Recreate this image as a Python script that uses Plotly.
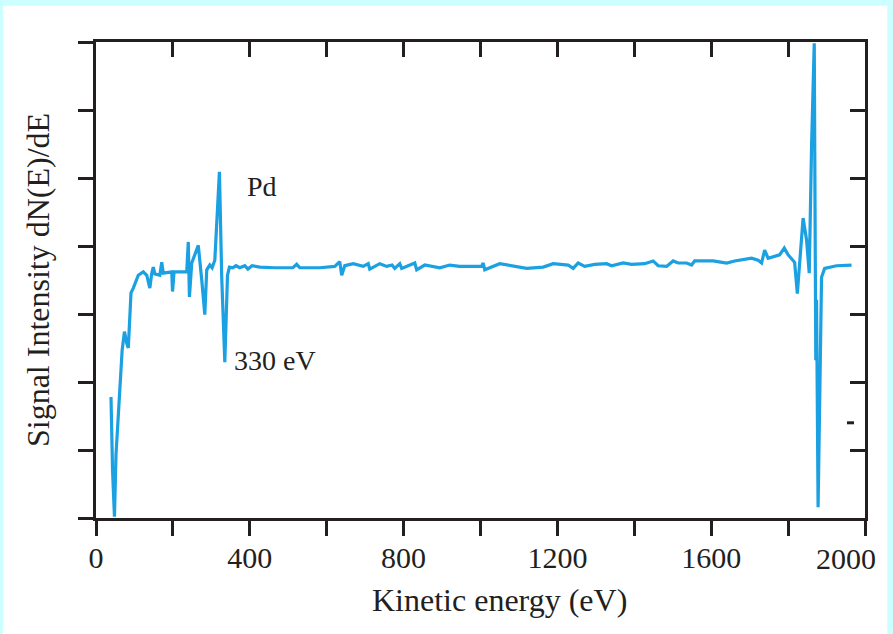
import plotly.graph_objects as go

# Auger electron spectrum (derivative mode) of a Pd surface
energy_ev = [
    39, 43, 48, 52, 68, 74, 80, 84, 91, 97, 110, 123, 132, 140, 145, 149, 153,
    166, 171, 175, 197, 199, 203, 236, 240, 243, 249, 266, 275, 283, 288, 296,
    302, 309, 321, 327, 335, 342, 347, 356, 364, 374, 387, 395, 406, 426, 465,
    512, 522, 530, 582, 621, 634, 639, 647, 669, 695, 708, 712, 738, 756, 770,
    777, 790, 795, 811, 829, 834, 855, 894, 920, 946, 1003, 1007, 1011, 1050,
    1085, 1120, 1163, 1189, 1228, 1241, 1254, 1271, 1297, 1328, 1341, 1371,
    1393, 1427, 1449, 1462, 1484, 1501, 1514, 1536, 1549, 1557, 1605, 1640,
    1661, 1705, 1722, 1731, 1739, 1748, 1778, 1790, 1800, 1817, 1824, 1835,
    1839, 1848, 1855, 1861, 1868, 1872, 1874, 1878, 1887, 1895, 1926, 1965,
]
signal = [
    1.78, 0.71, 0.02, 0.93, 2.47, 2.74, 2.57, 2.50, 3.31, 3.38, 3.57, 3.62,
    3.57, 3.38, 3.60, 3.69, 3.59, 3.57, 3.76, 3.60, 3.62, 3.33, 3.62, 3.62,
    4.06, 3.25, 3.75, 4.01, 3.50, 2.99, 3.65, 3.72, 3.68, 3.79, 5.09, 3.54,
    2.29, 3.57, 3.69, 3.68, 3.71, 3.68, 3.71, 3.66, 3.71, 3.69, 3.68, 3.68,
    3.73, 3.68, 3.68, 3.70, 3.77, 3.57, 3.71, 3.74, 3.70, 3.74, 3.66, 3.74,
    3.70, 3.72, 3.67, 3.74, 3.67, 3.71, 3.75, 3.65, 3.72, 3.68, 3.72, 3.70,
    3.70, 3.75, 3.65, 3.74, 3.71, 3.67, 3.69, 3.74, 3.72, 3.67, 3.75, 3.70,
    3.73, 3.74, 3.71, 3.75, 3.73, 3.74, 3.78, 3.71, 3.70, 3.78, 3.75, 3.75,
    3.72, 3.78, 3.78, 3.75, 3.78, 3.82, 3.79, 3.75, 3.94, 3.82, 3.87, 3.97,
    3.87, 3.76, 3.30, 4.09, 4.41, 4.09, 3.60, 5.46, 6.98, 2.32, 3.21, 0.16,
    3.54, 3.67, 3.71, 3.72,
]

x_ticks = list(range(0, 2001, 200))
# the last label is placed separately, nudged left so it stays on the card
x_labels = ["0", "", "400", "", "800", "", "1200", "", "1600", "", ""]
last_label = "2000"
y_ticks = list(range(0, 8))

LINE_BLUE = "#1ba0e1"
INK = "#231f20"
SERIF = "Liberation Serif, Times New Roman, serif"
TICK_SIZE = 30

fig = go.Figure()
fig.add_trace(go.Scatter(
    x=energy_ev, y=signal, mode="lines",
    line=dict(color=LINE_BLUE, width=3.2),
    hoverinfo="skip", showlegend=False,
))
# empty trace so the mirrored top/right axes get drawn
fig.add_trace(go.Scatter(
    x=[None], y=[None], xaxis="x2", yaxis="y2",
    mode="lines", hoverinfo="skip", showlegend=False,
))

axis_common = dict(showgrid=False, zeroline=False, showline=True,
                   linecolor=INK, linewidth=3, tickcolor=INK,
                   tickwidth=3, ticklen=15, automargin=False)

fig.update_layout(
    width=893, height=634,
    margin=dict(l=96, r=28, t=42, b=116, autoexpand=False),
    paper_bgcolor="#ccffff",
    plot_bgcolor="white",
    font=dict(family=SERIF, color=INK),
    xaxis=dict(range=[0, 2000], tickvals=x_ticks, ticktext=x_labels,
               ticks="outside", tickfont=dict(size=TICK_SIZE),
               ticklabelstandoff=-4,
               **axis_common),
    yaxis=dict(range=[0, 7], tickvals=y_ticks, showticklabels=False,
               ticks="outside", **axis_common),
    xaxis2=dict(range=[0, 2000], tickvals=x_ticks, showticklabels=False,
                ticks="inside", overlaying="x", side="top", anchor="y2",
                **axis_common),
    yaxis2=dict(range=[0, 7], tickvals=y_ticks, showticklabels=False,
                ticks="inside", overlaying="y", side="right", anchor="x2",
                **axis_common),
    shapes=[
        # white card behind the chart
        dict(type="rect", xref="paper", yref="paper",
             x0=-0.121, x1=1.029, y0=-0.3, y1=1.076,
             fillcolor="white", line=dict(width=0), layer="below"),
        # short stray mark on the right frame
        dict(type="line", xref="paper", yref="y",
             x0=0.9766, x1=0.9857, y0=1.4, y1=1.4,
             line=dict(color=INK, width=3)),
    ],
    annotations=[
        # end-of-axis tick label
        dict(x=x_ticks[-1], y=-0.086, xref="x", yref="paper",
             text=last_label, showarrow=False, xanchor="center",
             yanchor="middle", xshift=-19,
             font=dict(size=TICK_SIZE, family=SERIF, color=INK)),
        # axis titles
        dict(x=0.525, y=-0.172, xref="paper", yref="paper",
             text="Kinetic energy (eV)", showarrow=False,
             xanchor="center", yanchor="middle",
             font=dict(size=32, family=SERIF, color=INK)),
        dict(x=-0.0754, y=0.5, xref="paper", yref="paper",
             text="Signal Intensity dN(E)/dE", showarrow=False, textangle=-90,
             xanchor="center", yanchor="middle",
             font=dict(size=32, family=SERIF, color=INK)),
        # peak labels
        dict(x=432, y=4.88, text="Pd", showarrow=False,
             xanchor="center", yanchor="middle",
             font=dict(size=28, family=SERIF, color=INK)),
        dict(x=354, y=2.31, text="330 eV", showarrow=False,
             xanchor="left", yanchor="middle",
             font=dict(size=28, family=SERIF, color=INK)),
    ],
)

fig.write_html("out.html")
